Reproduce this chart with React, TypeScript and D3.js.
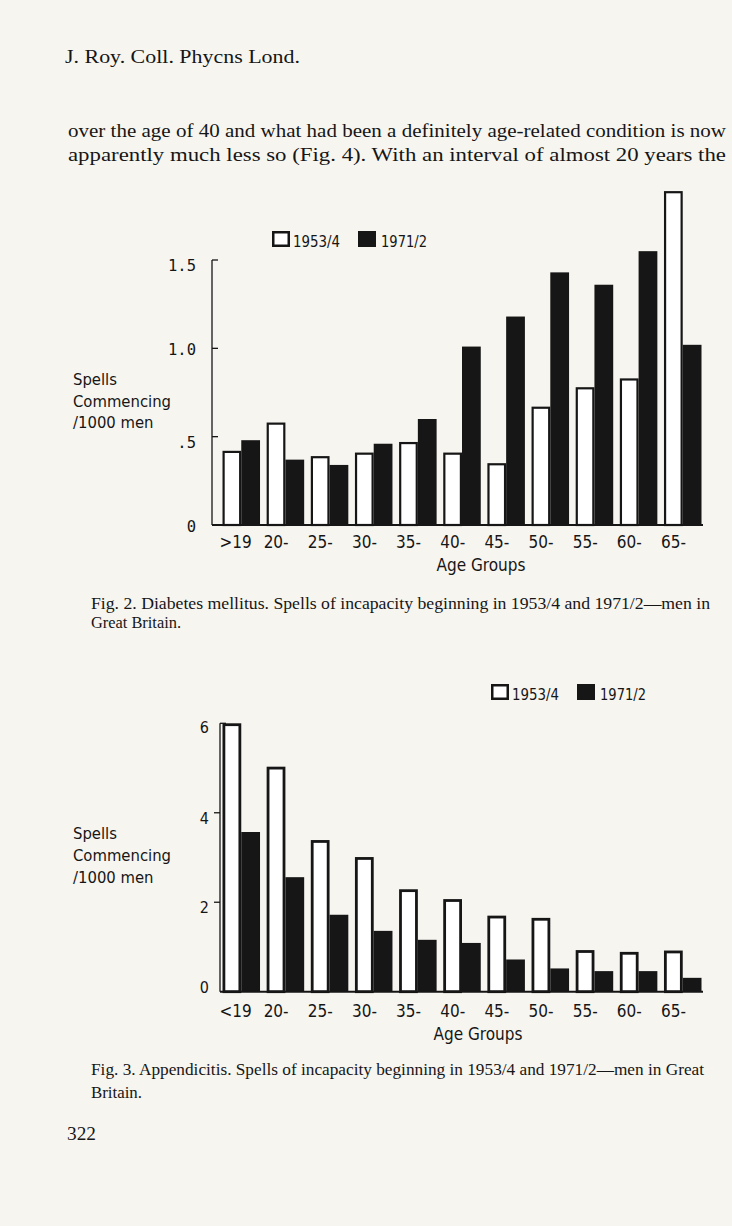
import React from "react";
import * as d3 from "d3";

// ---------- data ----------
const diabetesCategories = [">19", "20-", "25-", "30-", "35-", "40-", "45-", "50-", "55-", "60-", "65-"];
const appendicitisCategories = ["<19", "20-", "25-", "30-", "35-", "40-", "45-", "50-", "55-", "60-", "65-"];
const seriesNames = ["1953/4", "1971/2"];

const diabetes1953 = [0.42, 0.58, 0.39, 0.41, 0.47, 0.41, 0.35, 0.67, 0.78, 0.83, 1.89];
const diabetes1971 = [0.48, 0.37, 0.34, 0.46, 0.6, 1.01, 1.18, 1.43, 1.36, 1.55, 1.02];

const appendicitis1953 = [6.0, 5.03, 3.39, 3.01, 2.29, 2.07, 1.7, 1.65, 0.93, 0.89, 0.92];
const appendicitis1971 = [3.57, 2.56, 1.72, 1.36, 1.16, 1.09, 0.72, 0.52, 0.46, 0.46, 0.31];

const diabetesTicks = [0, 0.5, 1.0, 1.5];
const diabetesTickLabels = ["0", ".5", "1.0", "1.5"];
const appendicitisTicks = [0, 2, 4, 6];
const appendicitisTickLabels = ["0", "2", "4", "6"];

const yAxisTitle = ["Spells", "Commencing", "/1000 men"];
const xAxisTitle = "Age Groups";

// ---------- styles ----------
const SANS = "'DejaVu Sans Condensed', 'Liberation Sans Narrow', 'DejaVu Sans', sans-serif";
const SERIF = "'Liberation Serif', 'DejaVu Serif', serif";
const MONO = "'DejaVu Sans Mono', monospace";
const INK = "#161616";
const PAPER = "#f7f5f0";

type ChartProps = {
  cats: string[];
  s1: number[];
  s2: number[];
  domainMax: number;
  yTop: number;
  yBase: number;
  axisX: number;
  ticks: number[];
  tickLabels: string[];
  tickDirs: number[];
  tickFont: string;
  tickFontSize: number;
  tickLabelRight: number;
  tickDy: number[];
  titleY: number[];
  legendX: number;
  legendY: number;
  xLabelY: number;
  xTitleX: number;
  xTitleY: number;
  outline: number;
};

function BarChart(p: ChartProps) {
  const x = d3.scaleBand<string>().domain(p.cats).range([222.5, 701.5]).paddingInner(0.15).paddingOuter(0);
  const y = d3.scaleLinear().domain([0, p.domainMax]).range([p.yBase, p.yTop]);
  const half = x.bandwidth() / 2;
  const sw = p.outline;
  const axisTop = y(p.domainMax);
  return (
    <g>
      {/* legend */}
      <rect x={p.legendX + 1.25} y={p.legendY - 16 + 1.25} width={18 - 2.5} height={16 - 2.5} fill="white" stroke={INK} strokeWidth={2.5} />
      <text x={p.legendX + 21} y={p.legendY} fontFamily={SANS} fontSize={16.5} fill={INK} textLength={47} lengthAdjust="spacingAndGlyphs">{seriesNames[0]}</text>
      <rect x={p.legendX + 86} y={p.legendY - 16} width={18} height={16} fill={INK} />
      <text x={p.legendX + 109} y={p.legendY} fontFamily={SANS} fontSize={16.5} fill={INK} textLength={46} lengthAdjust="spacingAndGlyphs">{seriesNames[1]}</text>

      {/* y axis */}
      <line x1={p.axisX} x2={p.axisX} y1={axisTop} y2={p.yBase} stroke={INK} strokeWidth={1.3} />
      {p.ticks.map((t, i) => (
        <g key={"t" + i}>
          {p.tickDirs[i] !== 0 && (
            <line x1={p.axisX} x2={p.axisX + 6 * p.tickDirs[i]} y1={y(t)} y2={y(t)} stroke={INK} strokeWidth={1.3} />
          )}
          <text x={p.tickLabelRight} y={y(t) + p.tickDy[i]} textAnchor="end" fontFamily={p.tickFont} fontSize={p.tickFontSize} fill={INK}>
            {p.tickLabels[i]}
          </text>
        </g>
      ))}
      {p.titleY.map((ty, i) => (
        <text key={"yt" + i} x={73} y={ty} fontFamily={SANS} fontSize={16.5} fill={INK}>{yAxisTitle[i]}</text>
      ))}

      {/* bars */}
      {p.cats.map((c, i) => {
        const x0 = x(c) as number;
        return (
          <g key={c}>
            <rect
              x={x0 + sw / 2}
              y={y(p.s1[i]) + sw / 2}
              width={half - sw}
              height={p.yBase - y(p.s1[i]) - sw / 2}
              fill="white"
              stroke={INK}
              strokeWidth={sw}
            />
            <rect x={x0 + half} y={y(p.s2[i])} width={half} height={p.yBase - y(p.s2[i])} fill={INK} />
          </g>
        );
      })}

      {/* baseline */}
      <line x1={p.axisX} x2={703} y1={p.yBase} y2={p.yBase} stroke={INK} strokeWidth={2} />

      {/* x labels */}
      {p.cats.map((c) => (
        <text key={"xl" + c} x={(x(c) as number) - 3} y={p.xLabelY} fontFamily={SANS} fontSize={17} fill={INK}>{c}</text>
      ))}
      <text x={p.xTitleX} y={p.xTitleY} textAnchor="middle" fontFamily={SANS} fontSize={17} fill={INK}>{xAxisTitle}</text>
    </g>
  );
}

export default function App() {
  return (
    <svg width={732} height={1226} style={{ position: "absolute", left: 0, top: 0, display: "block" }}>
      <rect x={0} y={0} width={732} height={1226} fill={PAPER} />

      <text x={65} y={63} fontFamily={SERIF} fontSize={19} fill={INK} textLength={235} lengthAdjust="spacingAndGlyphs">J. Roy. Coll. Phycns Lond.</text>
      <text x={68} y={137} fontFamily={SERIF} fontSize={18.5} fill={INK} textLength={658} lengthAdjust="spacingAndGlyphs">
        over the age of 40 and what had been a definitely age-related condition is now
      </text>
      <text x={68} y={161} fontFamily={SERIF} fontSize={18.5} fill={INK} textLength={658} lengthAdjust="spacingAndGlyphs">
        apparently much less so (Fig. 4). With an interval of almost 20 years the
      </text>

      <BarChart
        cats={diabetesCategories}
        s1={diabetes1953}
        s2={diabetes1971}
        domainMax={1.5}
        yTop={260}
        yBase={525}
        axisX={212}
        ticks={diabetesTicks}
        tickLabels={diabetesTickLabels}
        tickDirs={[0, 1, 1, 1]}
        tickFont={MONO}
        tickFontSize={15.5}
        tickLabelRight={196}
        tickDy={[7, 11, 7, 11]}
        titleY={[385, 407, 428]}
        legendX={272}
        legendY={247}
        xLabelY={548}
        xTitleX={481}
        xTitleY={571}
        outline={2.2}
      />

      <text x={91} y={609} fontFamily={SERIF} fontSize={16} fill={INK} textLength={619} lengthAdjust="spacingAndGlyphs">
        Fig. 2.  Diabetes mellitus. Spells of incapacity beginning in 1953/4 and 1971/2—men in
      </text>
      <text x={91} y={628} fontFamily={SERIF} fontSize={16} fill={INK} textLength={90} lengthAdjust="spacingAndGlyphs">Great Britain.</text>

      <BarChart
        cats={appendicitisCategories}
        s1={appendicitis1953}
        s2={appendicitis1971}
        domainMax={6}
        yTop={723.3}
        yBase={991.7}
        axisX={220}
        ticks={appendicitisTicks}
        tickLabels={appendicitisTickLabels}
        tickDirs={[0, -1, -1, 1]}
        tickFont={SANS}
        tickFontSize={16}
        tickLabelRight={209}
        tickDy={[1, 11, 11, 10]}
        titleY={[839, 861, 883]}
        legendX={491}
        legendY={700}
        xLabelY={1017}
        xTitleX={478}
        xTitleY={1040}
        outline={2.8}
      />

      <text x={91} y={1075} fontFamily={SERIF} fontSize={16} fill={INK} textLength={613} lengthAdjust="spacingAndGlyphs">
        Fig. 3.  Appendicitis. Spells of incapacity beginning in 1953/4 and 1971/2—men in Great
      </text>
      <text x={91} y={1098} fontFamily={SERIF} fontSize={16} fill={INK} textLength={51} lengthAdjust="spacingAndGlyphs">Britain.</text>

      <text x={67} y={1140} fontFamily={SERIF} fontSize={19.5} fill={INK} textLength={29} lengthAdjust="spacingAndGlyphs">322</text>
    </svg>
  );
}
